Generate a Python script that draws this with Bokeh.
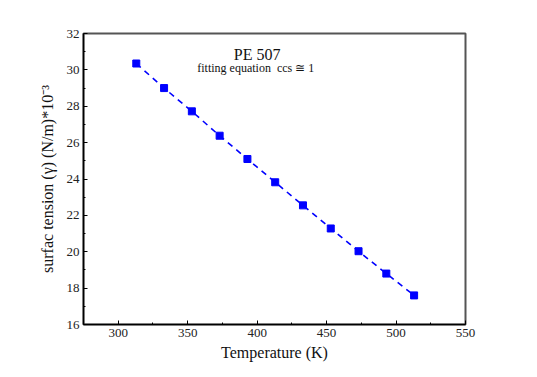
from bokeh.plotting import figure
from bokeh.models import Label, Range1d, FixedTicker
from bokeh.embed import file_html
from bokeh.resources import INLINE

temperature = [313, 333, 353, 373, 393, 413, 433, 453, 473, 493, 513]
surface_tension = [30.35, 29.0, 27.72, 26.38, 25.1, 23.82, 22.55, 21.28, 20.03, 18.8, 17.6]
x_ticks = [300, 350, 400, 450, 500, 550]
y_ticks = [16, 18, 20, 22, 24, 26, 28, 30, 32]

FONT = "Liberation Serif"
SMALL_FONT = "Times New Roman, Liberation Serif, serif"

p = figure(width=529, height=369, output_backend="svg", toolbar_location=None,
           x_range=Range1d(275, 550), y_range=Range1d(16, 32),
           min_border_left=83, min_border_right=64, min_border_top=33, min_border_bottom=45)

p.line(temperature, surface_tension, line_color="#0000FF", line_width=1.6, line_dash="6 5")
p.scatter(temperature, surface_tension, marker="square", size=7, fill_color="#0000FF",
          line_color="#0000FF")

p.grid.visible = False
p.outline_line_color = "#555555"
p.outline_line_width = 2
p.background_fill_color = "white"
p.border_fill_color = "white"

for ax in (p.xaxis[0], p.yaxis[0]):
    ax.axis_line_color = "black"
    ax.axis_line_width = 1.5
    ax.major_tick_in = 4
    ax.major_tick_out = 0
    ax.minor_tick_in = 2
    ax.minor_tick_out = 0
    ax.major_tick_line_color = "black"
    ax.minor_tick_line_color = "black"
    ax.major_label_text_font = SMALL_FONT
    ax.major_label_text_font_size = "13px"
    ax.major_label_text_color = "#222222"
    ax.axis_label_text_font = FONT
    ax.axis_label_text_font_size = "16px"
    ax.axis_label_text_font_style = "normal"
    ax.axis_label_text_color = "#111111"

p.xaxis[0].ticker = FixedTicker(ticks=x_ticks, minor_ticks=[325, 375, 425, 475, 525])
p.yaxis[0].ticker = FixedTicker(ticks=y_ticks, minor_ticks=[17, 19, 21, 23, 25, 27, 29, 31])
p.xaxis[0].axis_label = "Temperature (K)"
p.yaxis[0].axis_label = "surfac tension (\u03b3) (N/m)*10\u207b\u00b3"
p.xaxis[0].major_label_standoff = 4
p.xaxis[0].axis_label_standoff = 4
p.yaxis[0].major_label_standoff = 4
p.yaxis[0].axis_label_standoff = 8

p.add_layout(Label(x=400, y=30.86, text="PE 507",
                   text_font=FONT, text_font_size="16px", text_align="center",
                   text_baseline="middle", text_color="#111111"))
p.add_layout(Label(x=399, y=30.1,
                   text="fitting equation\u00a0\u00a0ccs \u2245 1",
                   text_font=SMALL_FONT, text_font_size="12px", text_align="center",
                   text_baseline="middle", text_color="#111111"))

open("out.html", "w").write(file_html(p, INLINE))
